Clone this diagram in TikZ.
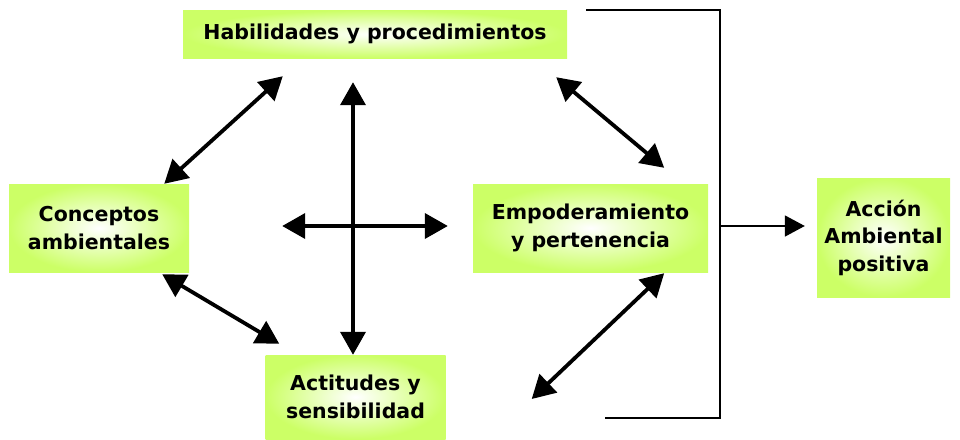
\documentclass[tikz,border=0pt]{standalone}
\usepackage{fontspec}
\setmainfont{DejaVu Sans}
\usetikzlibrary{arrows.meta}
\definecolor{lima}{RGB}{204,255,102}

\begin{document}
\begin{tikzpicture}[x=1pt,y=-1pt]
      \tikzstyle{concept}=[rectangle,inner color=white,outer color=lima,inner sep=0pt,align=center,font=\fontsize{20.5}{27.5}\selectfont\bfseries]
      \tikzstyle{link}=[{Triangle[length=23pt,width=25pt]}-{Triangle[length=23pt,width=25pt]},line width=3.8pt]
      \tikzstyle{bracket}=[line width=1.8pt]
      \useasboundingbox (0,0) rectangle (960,439);
      % concepts
      \node[concept,minimum width=384pt,minimum height=48pt] (hab) at (375,34) {Habilidades y procedimientos};
      \node[concept,minimum width=180pt,minimum height=88pt] (con) at (99,228) {Conceptos\\ambientales};
      \node[concept,minimum width=235pt,minimum height=88pt] (emp) at (590.5,228) {Empoderamiento\\y pertenencia};
      \node[concept,minimum width=180pt,minimum height=84pt] (act) at (355.5,397) {Actitudes y\\sensibilidad};
      \node[concept,minimum width=133pt,minimum height=119pt] (acc) at (883.5,237.5) {Acci\'on\\Ambiental\\positiva};
      % links between concepts
      \draw[link] ([xshift=100pt,yshift=-18pt]hab.south west) -- ([xshift=-25pt]con.north east);
      \draw[link] ([xshift=-22pt,yshift=-24pt]hab.south) -- ([xshift=-2.5pt]act.north);
      \draw[link] ([xshift=93pt,yshift=2pt]con.east) -- ([xshift=-25pt,yshift=2pt]emp.west);
      \draw[link] ([xshift=-11pt,yshift=-19pt]hab.south east) -- ([xshift=-44pt,yshift=16pt]emp.north east);
      \draw[link] ([xshift=-27pt,yshift=-2pt]con.south east) -- ([xshift=14pt,yshift=11pt]act.north west);
      \draw[link] ([xshift=-44pt,yshift=-1pt]emp.south east) -- ([xshift=86pt,yshift=-2pt]act.east);
      % bracket and result
      \coordinate (top) at (586,10);
      \coordinate (bottom) at (605,418);
      \coordinate (join) at (720,226);
      \draw[bracket] (top) -- (join |- top) -- (join |- bottom) -- (bottom);
      \draw[bracket,-{Triangle[length=20pt,width=21pt]}] (join) -- ([xshift=-12pt]acc.west |- join);
\end{tikzpicture}
\end{document}
